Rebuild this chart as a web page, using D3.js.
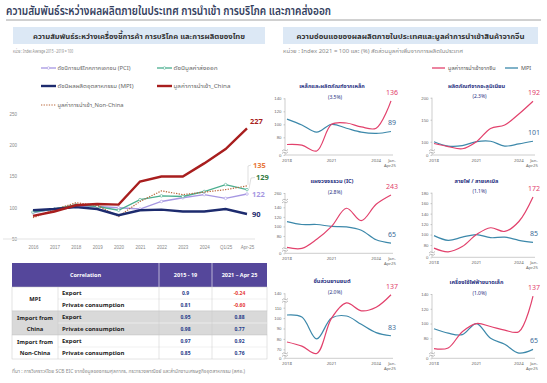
<!DOCTYPE html>
<html>
<head>
<meta charset="utf-8">
<script src="https://cdn.jsdelivr.net/npm/d3@7"></script>
<style>
body { margin: 0; background: #fff; }
svg { display: block; font-family: "Noto Sans Thai", "Noto Sans", "DejaVu Sans", sans-serif; }
</style>
</head>
<body>
<div id="chart"></div>
<script>
// ---- data : left chart (Index average 2015-2019 = 100)
const periods = ["2016", "2017", "2018", "2019", "2020", "2021", "2022", "2023", "2024", "Q1/25", "Apr-25"];
const importChina = [87, 94, 104, 106, 105, 142, 150, 150, 171, 194, 227];
const importNonChina = [84, 97, 108, 104, 86, 110, 127, 121, 125, 129, 135];
const exportIdx = [93, 98, 105, 102, 96, 113, 119, 118, 126, 137, 129];
const pciIdx = [92, 98, 102, 102, 100, 98, 110, 116, 121, 115, 122];
const mpiIdx = [96, 98, 101, 98, 88, 96, 97, 94, 94, 98, 90];
const leftTicks = [50, 100, 150, 200, 250];

// ---- data : correlation table
const corrGroups = [["MPI"], ["Import from", "China"], ["Import from", "Non-China"]];
const corrMeasures = ["Export", "Private consumption"];
const corrPre = ["0.9", "0.81", "0.95", "0.98", "0.97", "0.85"];
const corrPost = ["-0.24", "-0.60", "0.88", "0.77", "0.92", "0.76"];

// ---- data : small multiples (Index 2021 = 100)
const smallPeriods = ["2018", "2019", "2020", "2021", "2022", "2023", "2024", "Jan-Apr25"];
const smallTitles = ["เหล็กและผลิตภัณฑ์จากเหล็ก", "ผลิตภัณฑ์จากอะลูมิเนียม", "แผงวงจรรวม (IC)",
  "สายไฟ / สายเคเบิล", "ชิ้นส่วนยานยนต์", "เครื่องใช้ไฟฟ้าขนาดเล็ก"];
const smallShares = ["(3.5%)", "(2.3%)", "(2.8%)", "(1.1%)", "(2.0%)", "(1.0%)"];
const chinaSmall = [
  [69, 68, 59, 100, 102, 96, 94, 136],
  [96, 89, 84, 100, 130, 138, 163, 192],
  [56, 54, 73, 100, 138, 112, 165, 243],
  [74, 67, 77, 100, 113, 106, 125, 172],
  [77, 73, 66, 100, 120, 107, 111, 137],
  [66, 67, 89, 100, 96, 91, 89, 137]
];
const mpiSmall = [
  [108, 99, 88, 100, 94, 88, 86, 89],
  [100, 90, 91, 100, 101, 90, 95, 101],
  [110, 104, 104, 100, 99, 92, 72, 65],
  [98, 89, 95, 100, 94, 95, 89, 85],
  [103, 101, 80, 100, 102, 94, 86, 83],
  [93, 87, 85, 100, 80, 72, 60, 65]
];
const smallTicks = [
  [0, 80, 100, 120, 140],
  [0, 100, 150, 200],
  [0, 80, 100, 120, 140, 260],
  [0, 80, 100, 120, 140, 160, 180],
  [0, 70, 80, 90, 100, 110, 140],
  [0, 80, 100, 120, 140]
];
const smallXTicks = ["2018", "2021", "2024"];

// ---- layout of small multiples: scale breakpoints (axis breaks) and pixel stops
const smallLayout = [
  { x0: 287, x1: 391, dom: [0, 55, 140], rng: [155, 153.6, 98.3], breaks: [151.5] },
  { x0: 434, x1: 533, dom: [0, 75, 200], rng: [155, 152.7, 97.7], breaks: [151.5] },
  { x0: 287, x1: 391, dom: [0, 45, 140, 260], rng: [253.3, 252.7, 207.3, 193], breaks: [249.5, 201] },
  { x0: 434, x1: 533, dom: [0, 60, 180], rng: [257.3, 255.5, 192.7], breaks: [253.5] },
  { x0: 287, x1: 391, dom: [0, 62, 110, 140], rng: [358.3, 357.6, 307.7, 293.3], breaks: [354.5, 300.5] },
  { x0: 434, x1: 533, dom: [0, 55, 140], rng: [358.3, 356.8, 294], breaks: [354.5] }
];

const width = 547, height = 383;
const pink = "#e2416c", teal = "#3c88aa";

const svg = d3.select("#chart").append("svg")
  .attr("width", width)
  .attr("height", height);

// title
svg.append("text").attr("x", 6).attr("y", 15)
  .style("font-size", "11.5px").style("font-weight", "600").attr("fill", "#34405e")
  .attr("textLength", 325).attr("lengthAdjust", "spacingAndGlyphs")
  .text("ความสัมพันธ์ระหว่างผลผลิตภายในประเทศ การนำเข้า การบริโภค และภาคส่งออก");
svg.append("line").attr("x1", 6).attr("x2", 541).attr("y1", 20).attr("y2", 20)
  .attr("stroke", "#8c8c8c").attr("stroke-width", 0.8);

// sub titles boxes
const boxes = [
  { x: 13, w: 252, t: "ความสัมพันธ์ระหว่างเครื่องชี้การค้า การบริโภค และการผลิตของไทย", tl: 212,
    u: "หน่วย : Index Average 2015 - 2019 = 100", ul: 60 },
  { x: 283, w: 255, t: "ความอ่อนแอของผลผลิตภายในประเทศและมูลค่าการนำเข้าสินค้าจากจีน", tl: 228,
    u: "หน่วย : Index 2021 = 100 และ (%) สัดส่วนมูลค่าเพิ่มจากการผลิตในประเทศ", ul: 180 }
];
boxes.forEach(b => {
  svg.append("rect").attr("x", b.x).attr("y", 27).attr("width", b.w).attr("height", 17)
    .attr("fill", "#dce8f5");
  svg.append("text").attr("x", b.x + b.w / 2).attr("y", 38.5).attr("text-anchor", "middle")
    .style("font-size", "7.5px").style("font-weight", "bold").attr("fill", "#333")
    .attr("textLength", b.tl).attr("lengthAdjust", "spacingAndGlyphs")
    .text(b.t);
  svg.append("text").attr("x", b.x).attr("y", 53)
    .style("font-size", "4.8px").attr("fill", "#8a8a8a")
    .attr("textLength", b.ul).attr("lengthAdjust", "spacingAndGlyphs").text(b.u);
});

// ================= left chart =================
const x = d3.scalePoint().domain(periods).range([33, 247]);
const y = d3.scaleLinear().domain([50, 250]).range([239, 114]);

const gAxis = svg.append("g").attr("transform", "translate(19,0)")
  .call(d3.axisLeft(y).tickValues(leftTicks).tickSize(0).tickPadding(2));
gAxis.select(".domain").remove();
gAxis.selectAll("text").style("font-size", "4.5px").attr("fill", "#888");

const gx = svg.append("g").attr("transform", "translate(0,239)")
  .call(d3.axisBottom(x).tickSize(0).tickPadding(7));
gx.select(".domain").attr("stroke", "#e3e3e3").attr("d", "M3,0H255");
gx.selectAll("text").style("font-size", "4.5px").attr("fill", "#888");

const series = [
  { name: "ดัชนีการบริโภคภาคเอกชน (PCI)", v: pciIdx, c: "#a697e2", w: 1.3, dot: true },
  { name: "ดัชนีมูลค่าส่งออก", v: exportIdx, c: "#4aae8f", w: 1.3, dot: true },
  { name: "มูลค่าการนำเข้า_Non-China", v: importNonChina, c: "#b8663a", w: 1.2, dash: "1.3,1.3" },
  { name: "ดัชนีผลผลิตอุตสาหกรรม (MPI)", v: mpiIdx, c: "#1d2b6e", w: 2.4 },
  { name: "มูลค่าการนำเข้า_China", v: importChina, c: "#a81e1e", w: 2.4 }
];

const line = d3.line().x((d, i) => x(periods[i])).y(d => y(d));

series.forEach(s => {
  svg.append("path").datum(s.v)
    .attr("d", line).attr("fill", "none")
    .attr("stroke", s.c).attr("stroke-width", s.w)
    .attr("stroke-dasharray", s.dash || null);
  if (s.dot) {
    svg.append("g").selectAll("circle").data(s.v).join("circle")
      .attr("cx", (d, i) => x(periods[i])).attr("cy", d => y(d)).attr("r", 1.3)
      .attr("fill", "#fff").attr("stroke", s.c).attr("stroke-width", 0.6);
  }
});

// end labels
const last = periods.length - 1;
const endLabels = [
  { v: importChina[last], c: "#a81e1e", dx: 3, y: 124 },
  { v: importNonChina[last], c: "#e8773c", dx: 6, y: 168 },
  { v: exportIdx[last], c: "#2f7a3f", dx: 9, y: 180 },
  { v: pciIdx[last], c: "#a697e2", dx: 5, y: 196.5 },
  { v: mpiIdx[last], c: "#1d2b6e", dx: 5, y: 216.5 }
];
endLabels.forEach(l => {
  svg.append("text").attr("x", x(periods[last]) + l.dx).attr("y", l.y)
    .style("font-size", "7.5px").style("font-weight", "bold").attr("fill", l.c).text(l.v);
});
// leaders
const xe = x(periods[last]);
svg.append("path").attr("fill", "none").attr("stroke", "#bdbdbd").attr("stroke-width", 0.5)
  .attr("d", `M${xe + 1},${y(importNonChina[last]) - 1}L${xe + 1},${166}L${xe + 4},${165}`);
svg.append("path").attr("fill", "none").attr("stroke", "#bdbdbd").attr("stroke-width", 0.5)
  .attr("d", `M${xe + 2},${y(exportIdx[last]) - 1}L${xe + 4},${178}L${xe + 8},${177.5}`);

// legend
const legendPos = [[41, 68], [157, 68], [41, 105], [41, 86], [157, 86]];
const legendLen = [73, 44, 66, 76, 57];
series.forEach((s, i) => {
  const [lx, ly] = legendPos[i];
  const g = svg.append("g").attr("transform", `translate(${lx},${ly})`);
  g.append("line").attr("x1", 0).attr("x2", 15).attr("stroke", s.c)
    .attr("stroke-width", s.w).attr("stroke-dasharray", s.dash || null);
  if (s.dot) g.append("circle").attr("cx", 7.5).attr("r", 1.3).attr("fill", "#fff")
    .attr("stroke", s.c).attr("stroke-width", 0.6);
  g.append("text").attr("x", 16.5).attr("y", 2).style("font-size", "5.8px").attr("fill", "#666")
    .attr("textLength", legendLen[i]).attr("lengthAdjust", "spacingAndGlyphs")
    .text(s.name);
});

// ================= correlation table =================
const tx = [12, 58, 159, 212, 267];
const tTop = 263, tHead = 287, rowH = 12;
const table = svg.append("g");
table.append("rect").attr("x", tx[0]).attr("y", tTop).attr("width", tx[4] - tx[0]).attr("height", tHead - tTop)
  .attr("fill", "#55479b");
[["Correlation", (tx[0] + tx[2]) / 2], ["2015 - 19", (tx[2] + tx[3]) / 2], ["2021 – Apr 25", (tx[3] + tx[4]) / 2]]
  .forEach(([t, cx]) => table.append("text").attr("x", cx).attr("y", 277).attr("text-anchor", "middle")
    .style("font-size", "5.5px").style("font-weight", "bold").attr("fill", "#fff").text(t));
[tx[2], tx[3]].forEach(vx => table.append("line").attr("x1", vx).attr("x2", vx)
  .attr("y1", tTop).attr("y2", tHead).attr("stroke", "#fff").attr("stroke-width", 0.6));

corrGroups.forEach((grp, gi) => {
  const gy = tHead + gi * rowH * 2;
  table.append("rect").attr("x", tx[0]).attr("y", gy).attr("width", tx[4] - tx[0]).attr("height", rowH * 2)
    .attr("fill", gi === 1 ? "#d9d9d9" : "#fff").attr("stroke", "#c8c8c8").attr("stroke-width", 0.5);
  grp.forEach((t, k) => table.append("text").attr("x", (tx[0] + tx[1]) / 2)
    .attr("y", gy + rowH + 2 + (k - (grp.length - 1) / 2) * 11)
    .attr("text-anchor", "middle").style("font-size", "5.8px").style("font-weight", "bold")
    .attr("fill", "#222").text(t));
  corrMeasures.forEach((m, mi) => {
    const ry = gy + mi * rowH;
    const idx = gi * 2 + mi;
    if (mi === 1) table.append("line").attr("x1", tx[1]).attr("x2", tx[4]).attr("y1", ry).attr("y2", ry)
      .attr("stroke", gi === 1 ? "#fff" : "#e3e3e3").attr("stroke-width", 0.5);
    table.append("text").attr("x", tx[1] + 4).attr("y", ry + 7.5).style("font-size", "6px")
      .style("font-weight", "bold").attr("fill", "#222").text(m);
    table.append("text").attr("x", (tx[2] + tx[3]) / 2).attr("y", ry + 8).attr("text-anchor", "middle")
      .style("font-size", "5px").style("font-weight", "bold").attr("fill", "#1f3a8a").text(corrPre[idx]);
    table.append("text").attr("x", (tx[3] + tx[4]) / 2).attr("y", ry + 8).attr("text-anchor", "middle")
      .style("font-size", "5px").style("font-weight", "bold")
      .attr("fill", corrPost[idx].startsWith("-") ? "#e53935" : "#1f3a8a").text(corrPost[idx]);
  });
});
[tx[1], tx[2], tx[3]].forEach(vx => table.append("line").attr("x1", vx).attr("x2", vx)
  .attr("y1", tHead).attr("y2", tHead + rowH * 6).attr("stroke", "#c8c8c8").attr("stroke-width", 0.5));

// source
svg.append("text").attr("x", 12).attr("y", 373).style("font-size", "4.8px").attr("fill", "#8a8a8a")
  .attr("textLength", 233).attr("lengthAdjust", "spacingAndGlyphs")
  .text("ที่มา : การวิเคราะห์โดย SCB EIC จากข้อมูลของกรมศุลกากร, กระทรวงพาณิชย์ และสำนักงานเศรษฐกิจอุตสาหกรรม (สศอ.)");

// ================= right small multiples =================
// legend
[[432, pink, "มูลค่าการนำเข้าจากจีน"], [505, teal, "MPI"]].forEach(([lx, c, t]) => {
  svg.append("line").attr("x1", lx).attr("x2", lx + 13).attr("y1", 68).attr("y2", 68)
    .attr("stroke", c).attr("stroke-width", 1.3);
  svg.append("text").attr("x", lx + 16).attr("y", 70).style("font-size", "5.5px").attr("fill", "#555").text(t);
});

smallLayout.forEach((L, i) => {
  const g = svg.append("g");
  const sx = d3.scalePoint().domain(smallPeriods).range([L.x0, L.x1]);
  const sy = d3.scaleLinear().domain(L.dom).range(L.rng);
  const bottom = L.rng[0];
  const top = L.rng[L.rng.length - 1];
  const cx = (L.x0 + L.x1) / 2 - 7;

  g.append("text").attr("x", cx).attr("y", top - 10).attr("text-anchor", "middle")
    .style("font-size", "5.6px").style("font-weight", "bold").attr("fill", "#27307f").text(smallTitles[i]);
  g.append("text").attr("x", cx + 3).attr("y", top + 0.5).attr("text-anchor", "middle")
    .style("font-size", "5px").attr("fill", "#27307f").text(smallShares[i]);

  // axes
  const ya = g.append("g").attr("transform", `translate(${L.x0 - 2},0)`)
    .call(d3.axisLeft(sy).tickValues(smallTicks[i]).tickSize(1.5).tickPadding(2));
  ya.select(".domain").attr("stroke", "#9a9a9a").attr("stroke-width", 0.5).attr("d", `M0,${bottom}V${top}`);
  ya.selectAll(".tick line").attr("stroke", "#9a9a9a").attr("stroke-width", 0.5);
  ya.selectAll("text").style("font-size", "4.3px").attr("fill", "#666");
  g.append("line").attr("x1", L.x0 - 2).attr("x2", L.x1 + 2).attr("y1", bottom).attr("y2", bottom)
    .attr("stroke", "#9a9a9a").attr("stroke-width", 0.5);

  // axis breaks
  L.breaks.forEach(by => {
    g.append("rect").attr("x", L.x0 - 5).attr("y", by - 1.2).attr("width", 6).attr("height", 2.4).attr("fill", "#fff");
    [-1.2, 1.2].forEach(o => g.append("path").attr("fill", "none").attr("stroke", "#777").attr("stroke-width", 0.5)
      .attr("d", `M${L.x0 - 5},${by + o + 0.8}q1.5,-2 3,-0.8t3,-0.8`));
  });

  // x labels
  smallXTicks.forEach(t => g.append("text").attr("x", sx(t)).attr("y", bottom + 6.5)
    .attr("text-anchor", "middle").style("font-size", "4.3px").attr("fill", "#666").text(t));
  g.append("text").attr("x", L.x1 + 1).attr("y", bottom + 6.5).attr("text-anchor", "middle")
    .style("font-size", "4.3px").attr("fill", "#666").text("Jan-");
  g.append("text").attr("x", L.x1 - 1).attr("y", bottom + 12).attr("text-anchor", "middle")
    .style("font-size", "4.3px").attr("fill", "#666").text("Apr25");

  const sl = d3.line().x((d, k) => sx(smallPeriods[k])).y(d => sy(d)).curve(d3.curveCatmullRom.alpha(0.5));
  [[mpiSmall[i], teal], [chinaSmall[i], pink]].forEach(([vals, c]) => {
    g.append("path").datum(vals).attr("d", sl).attr("fill", "none")
      .attr("stroke", c).attr("stroke-width", 1.2);
    const lastV = vals[vals.length - 1];
    g.append("text").attr("x", L.x1 + 1).attr("y", sy(lastV) - 6).attr("text-anchor", "middle")
      .style("font-size", "7px").attr("fill", c === pink ? pink : "#3d6c98").text(lastV);
  });
});
</script>
</body>
</html>
